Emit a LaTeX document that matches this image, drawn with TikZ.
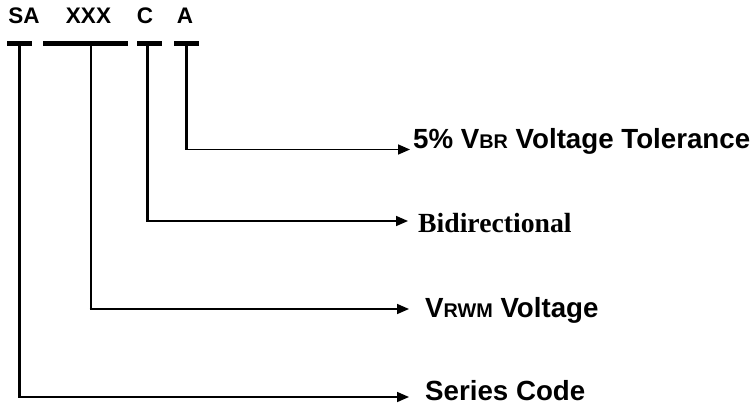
\documentclass[tikz,border=0pt]{standalone}
\usepackage{fontspec}
\setmainfont{Liberation Sans}
\newfontfamily\serifbf{Liberation Serif}
\usetikzlibrary{arrows.meta}
\tikzset{
  code/.style={anchor=base, inner sep=0pt, font=\bfseries\fontsize{22.5}{26}\selectfont},
  lbl/.style={anchor=base west, inner sep=0pt, font=\bfseries\fontsize{27.7}{32}\selectfont},
  bar/.style={line width=5pt, line cap=butt},
  stem/.style={line width=2.8pt, line cap=butt},
  lead/.style={line width=1.6pt, -{Triangle[length=12pt,width=10pt]}},
}
\newcommand{\smc}[1]{{\fontsize{19.8}{24}\selectfont #1}}
\begin{document}
\begin{tikzpicture}[x=1pt,y=-1pt]
\useasboundingbox (0,0) rectangle (754,410);
% top codes
\node[code] (sa)  at (24,23)  {SA};
\node[code] (xxx) at (88.5,23) {XXX};
\node[code] (c)   at (145,23) {C};
\node[code] (a)   at (185,23) {A};
% bars
\coordinate (saL) at (7,43.5);   \coordinate (saR) at (32,43.5);
\coordinate (xL) at (43,43.5);   \coordinate (xR) at (128,43.5);
\coordinate (cL) at (137,43.5);  \coordinate (cR) at (162,43.5);
\coordinate (aL) at (174,43.5);  \coordinate (aR) at (199,43.5);
\draw[bar] (saL) -- (saR);
\draw[bar] (xL) -- (xR);
\draw[bar] (cL) -- (cR);
\draw[bar] (aL) -- (aR);
% stem tops and corners
\coordinate (saT) at (19.5,43.5);  \coordinate (saC) at (19.5,397);
\coordinate (xT) at (91,43.5);     \coordinate (xC) at (91,309);
\coordinate (cT) at (147.5,43.5);  \coordinate (cC) at (147.5,221);
\coordinate (aT) at (186.5,43.5);  \coordinate (aC) at (186.5,149.5);
% arrow tips
\coordinate (saE) at (409,397);
\coordinate (xE) at (409,309);
\coordinate (cE) at (408,221);
\coordinate (aE) at (410,149.5);
% labels
\node[lbl] (lA) at (413,148) {5\% V\smc{BR} Voltage Tolerance};
\node[lbl, font=\serifbf\bfseries\fontsize{27.7}{32}\selectfont] (lC) at (418,232) {Bidirectional};
\node[lbl] (lX) at (425,317) {V\smc{RWM} Voltage};
\node[lbl] (lS) at (425,400) {Series Code};
% connectors
\draw[stem] (aT) -- ([yshift=0.8pt]aC);
\draw[lead] ([xshift=-1.4pt]aC) -- (aE);
\draw[stem] (cT) -- ([yshift=0.8pt]cC);
\draw[lead] ([xshift=-1.4pt]cC) -- (cE);
\draw[stem] (xT) -- ([yshift=0.8pt]xC);
\draw[lead] ([xshift=-1.4pt]xC) -- (xE);
\draw[stem] (saT) -- ([yshift=0.8pt]saC);
\draw[lead] ([xshift=-1.4pt]saC) -- (saE);
\end{tikzpicture}
\end{document}
